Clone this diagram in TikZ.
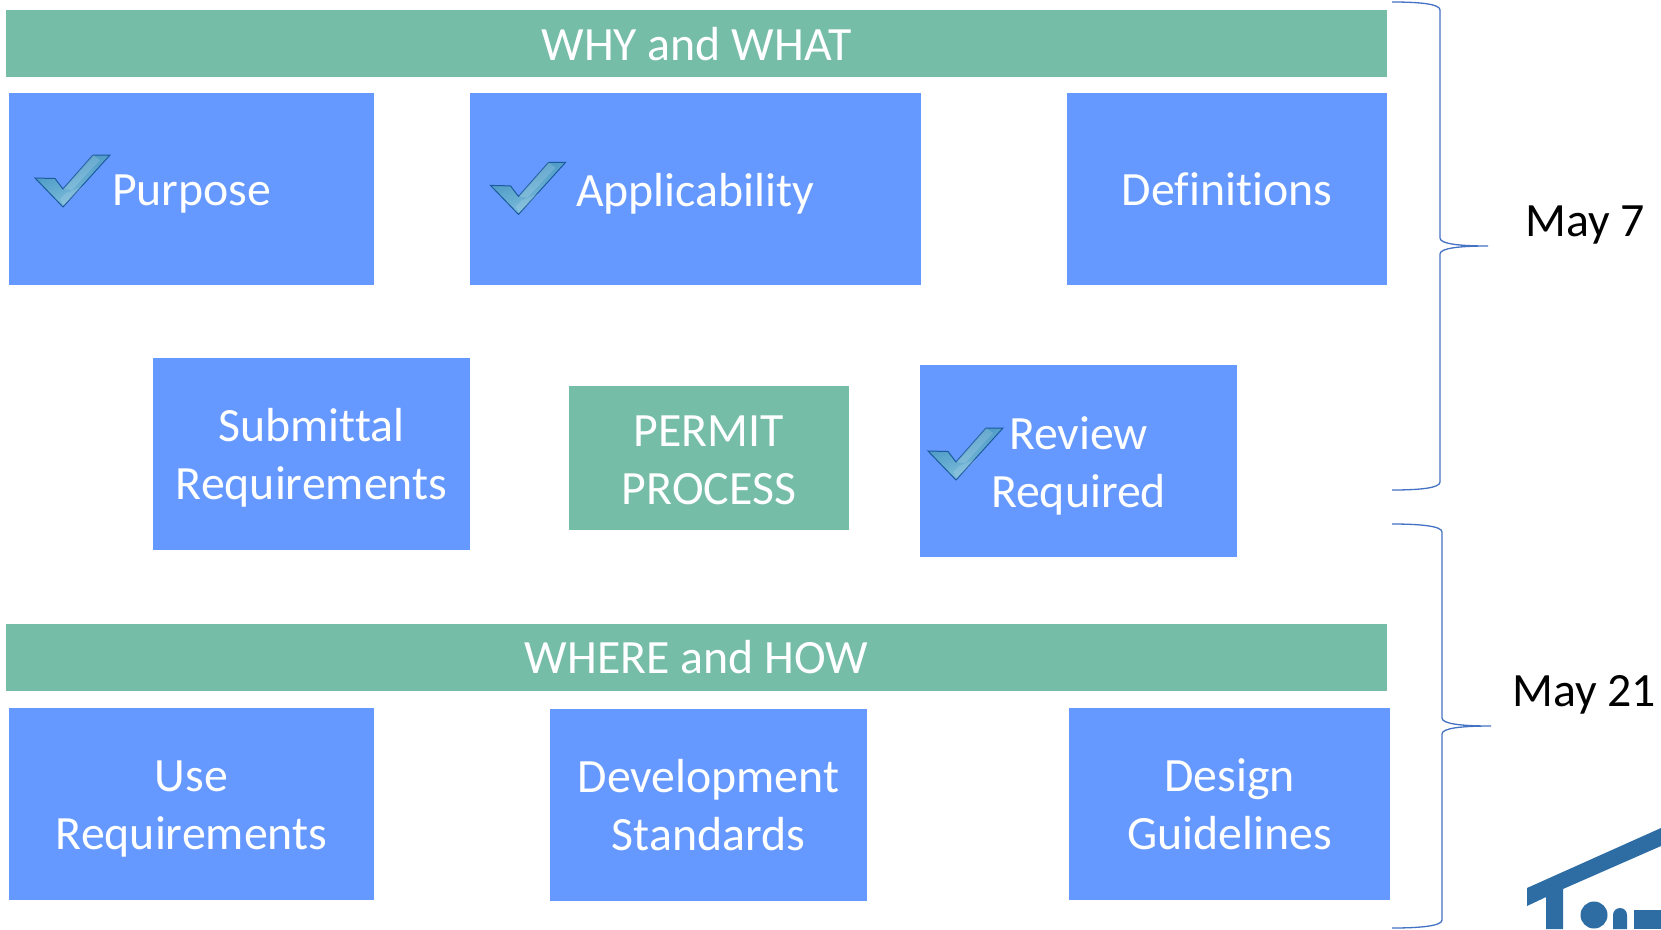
\documentclass[tikz,border=0pt]{standalone}
\usepackage{fontspec}
\setmainfont[Ligatures=NoCommon]{Carlito}
\definecolor{boxblue}{HTML}{6699FF}
\definecolor{boxgreen}{HTML}{75BDA7}
\definecolor{bracecol}{HTML}{4472C4}
\definecolor{logocol}{HTML}{2E6DA4}
\definecolor{boxtick1}{HTML}{3E8FC0}
\definecolor{boxtick2}{HTML}{86C4DE}
\definecolor{tickedge}{HTML}{1A5A9C}
\tikzset{
  lbl/.style={font=\fontsize{47.8}{58}\selectfont,align=center,inner sep=0pt,outer sep=0pt},
  bluebox/.style={fill=boxblue,draw=none,inner sep=0pt,outer sep=0pt},
  greenbox/.style={fill=boxgreen,draw=none,inner sep=0pt,outer sep=0pt},
  brc/.style={draw=bracecol,line width=1.3pt},
}
% name, x0, y0, x1, y1, style, y offset of text, text
\newcommand{\bx}[8]{%
  \pgfmathsetmacro{\mycx}{(#2+#4)/2}\pgfmathsetmacro{\mycy}{(#3+#5)/2}%
  \pgfmathsetmacro{\mywd}{#4-#2}\pgfmathsetmacro{\myht}{#5-#3}%
  \pgfmathsetmacro{\mytxy}{\mycy+#7}%
  \node[#6,minimum width=\mywd pt,minimum height=\myht pt] (#1) at (\mycx,\mycy) {};
  \node[lbl,text=white] (#1t) at (\mycx,\mytxy) {#8};}
\newcommand{\chk}[3]{%
  \begin{scope}[shift={(#2,#3)}]
    \coordinate (#1) at (63,189);
    \path[draw=tickedge,line width=1pt,left color=boxtick1,right color=boxtick2,shading angle=20]
      (35,178) -- (55,178.5) -- (63,189) -- (93,155) -- (110,155) -- (63,207) -- cycle;
    \fill[white,opacity=.15] (63,189) -- (93,155) -- (100,160) -- (72,190) -- cycle;
    \fill[white,opacity=.12] (60,199) -- (66,193) -- (84,186) -- (64,205) -- cycle;
  \end{scope}}
% name, xs, xv, xt, y0, ym, y1
\newcommand{\mybrace}[7]{%
  \coordinate (#1a) at (#2,#5);
  \coordinate (#1m) at (#4,#6);
  \coordinate (#1b) at (#2,#7);
  \draw[brc] (#1a) .. controls (#2+28,#5) and (#3,#5+2) .. (#3,#5+8)
    -- (#3,#6-8) .. controls (#3,#6-2) and (#3+20,#6) .. (#1m)
    .. controls (#3+20,#6) and (#3,#6+2) .. (#3,#6+8)
    -- (#3,#7-8) .. controls (#3,#7-2) and (#2+28,#7) .. (#1b);}
\begin{document}
\begin{tikzpicture}[x=1pt,y=-1pt]
\useasboundingbox (0,0) rectangle (1661,929);
\fill[white] (0,0) rectangle (1661,929);

\bx{why}{6}{10}{1387}{77}{greenbox}{1}{WHY and WHAT}
\bx{purposebox}{9}{93}{374}{285}{bluebox}{0}{}
\node[lbl,text=white,anchor=west] (purpose) at (112,194) {Purpose};
\bx{applic}{470}{93}{921}{285}{bluebox}{0}{}
\node[lbl,text=white,anchor=west] (applictext) at (576,193.5) {Applicability};
\bx{defs}{1067}{93}{1387}{285}{bluebox}{0}{Definitions}

\bx{submittal}{153}{358}{470}{550}{bluebox}{4.2}{Submittal\\Requirements}
\bx{permit}{569}{386}{849}{530}{greenbox}{2}{PERMIT\\PROCESS}
\bx{review}{920}{365}{1237}{557}{bluebox}{4.5}{Review\\Required}

\bx{where}{6}{624}{1387}{691}{greenbox}{0}{WHERE and HOW}
\bx{use}{9}{708}{374}{900}{bluebox}{5}{Use\\Requirements}
\bx{dev}{550}{709}{867}{901}{bluebox}{0}{Development\\Standards}
\bx{design}{1069}{708}{1390}{900}{bluebox}{0.5}{Design\\Guidelines}

\chk{c1}{0}{0}
\chk{c2}{455.5}{7.4}
\chk{c3}{893}{273}

\mybrace{ba}{1392}{1440}{1488}{2}{246}{490}
\mybrace{bb}{1392}{1442}{1491}{524}{726}{928}

\node[lbl,text=black] (may7) at (1585,225) {May 7};
\node[lbl,text=black] (may21) at (1584,695) {May 21};

% logo
\fill[logocol] (1527,888) -- (1661,828) -- (1661,846) -- (1563,889) -- (1563,929)
  -- (1546,929) -- (1546,897) -- (1527,906) -- cycle;
\fill[logocol] (1594,915) circle (13.5);
\fill[logocol] (1613,929) -- (1613,915) arc (180:360:7) -- (1627,929) -- cycle;
\fill[logocol] (1634,910) rectangle (1661,929);
\end{tikzpicture}
\end{document}
